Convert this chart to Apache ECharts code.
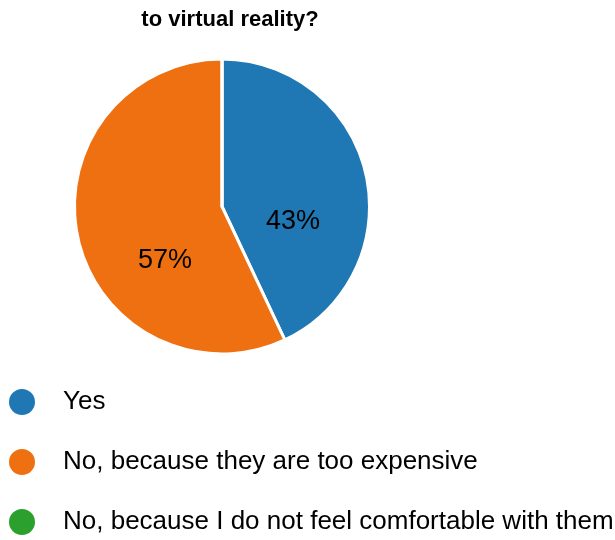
<!DOCTYPE html>
<html>
<head>
<meta charset="utf-8">
<style>
  html, body { margin: 0; padding: 0; background: #ffffff; }
  #chart { width: 615px; height: 540px; }
</style>
<script src="https://cdn.jsdelivr.net/npm/echarts@6/dist/echarts.min.js"></script>
</head>
<body>
<div id="chart"></div>
<script>
// Survey answers and their shares (percent)
const titleText = 'to virtual reality?';
const categories = [
  'Yes',
  'No, because they are too expensive',
  'No, because I do not feel comfortable with them'
];
const shares = [43, 57, 0];
const colors = ['#1f77b4', '#ee7011', '#2ca02c'];

const sans = '"Liberation Sans", Arial, sans-serif';

// label nudges so the percentages sit where the survey report printed them
const labelOffsets = [[-4, 32], [18, 37], [0, 0]];

const chart = echarts.init(document.getElementById('chart'), null, { renderer: 'canvas' });

chart.setOption({
  animation: false,
  color: colors,
  title: {
    text: titleText,
    left: 225,
    top: 4,
    textAlign: 'center',
    textStyle: {
      fontFamily: sans,
      fontWeight: 'bold',
      fontSize: 22,
      color: '#000000'
    }
  },
  legend: {
    orient: 'vertical',
    left: 7,
    top: 386,
    height: 160,
    padding: 0,
    icon: 'circle',
    itemWidth: 28,
    itemHeight: 28,
    itemGap: 28,
    selectedMode: false,
    data: categories,
    textStyle: {
      fontFamily: sans,
      fontSize: 26,
      lineHeight: 32,
      color: '#000000',
      padding: [0, 0, 0, 22]
    }
  },
  series: [{
    type: 'pie',
    center: [222, 206.5],
    radius: [0, 147.5],
    startAngle: 90,
    clockwise: true,
    avoidLabelOverlap: false,
    itemStyle: { borderColor: '#ffffff', borderWidth: 3 },
    label: {
      show: true,
      position: 'inner',
      formatter: '{c}%',
      fontFamily: sans,
      fontSize: 27,
      color: '#000000'
    },
    labelLine: { show: false },
    emphasis: { disabled: true },
    data: categories.map((name, i) => ({
      name: name,
      value: shares[i],
      label: shares[i] > 0 ? { offset: labelOffsets[i] } : { show: false }
    }))
  }]
});
</script>
</body>
</html>
